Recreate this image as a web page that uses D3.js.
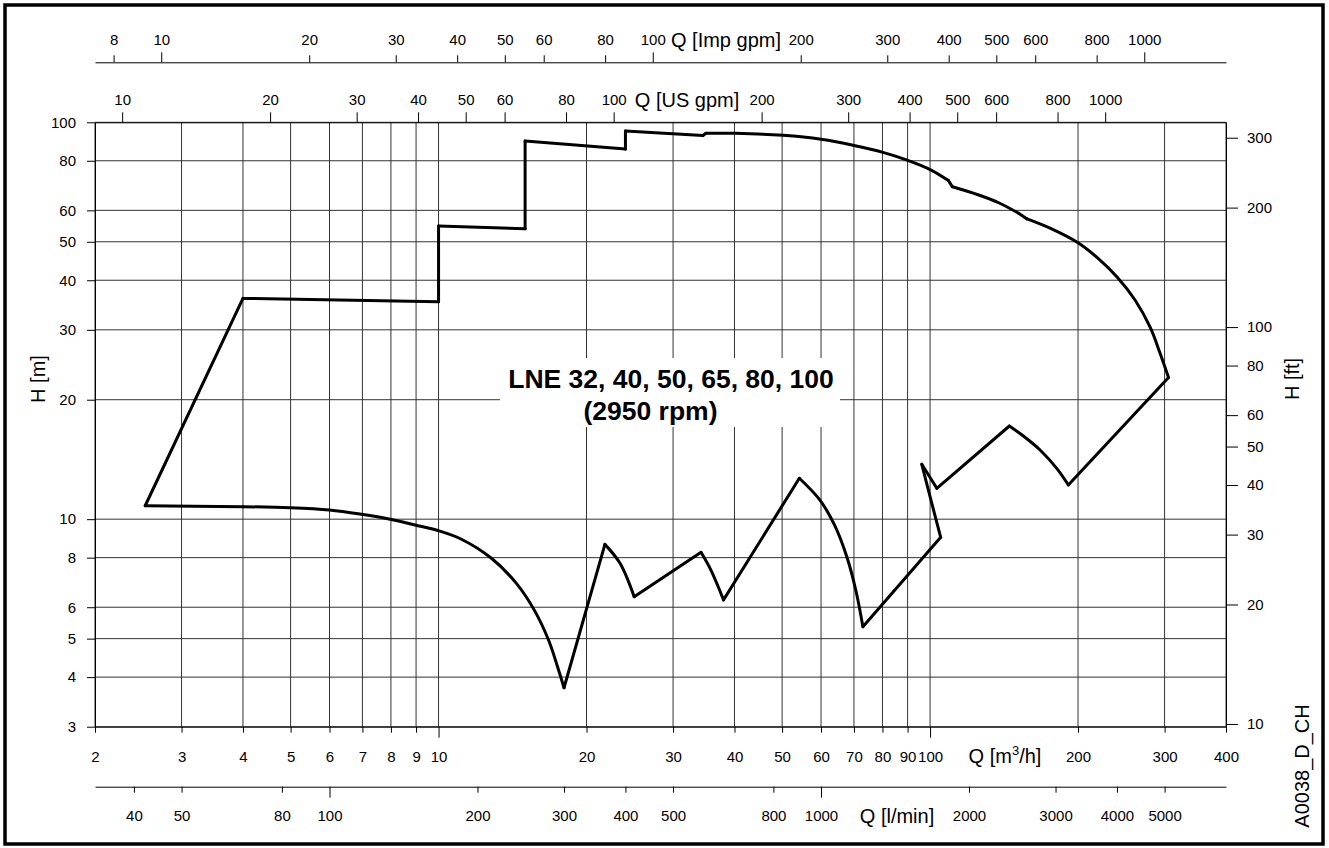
<!DOCTYPE html>
<html>
<head>
<meta charset="utf-8">
<script src="https://cdn.jsdelivr.net/npm/d3@7"></script>
<style>
    body { margin: 0; background: #fff; }
    svg { display: block; font-family: "Liberation Sans", Arial, Helvetica, sans-serif; }
</style>
</head>
<body>
<div id="chart"></div>
<script>
// Operating envelope of the pump range (Q in m3/h, H in m)
const flowQ = [2.53, 4.0, 10.0, 10.0, 15.0, 15.0, 24.0, 24.0, 34.5, 35.0,
    40.2, 50.2, 60.0, 70.4, 80.2, 89.8, 100.5, 109, 111, 125.6,
    137.9, 151.4, 157.5, 175.4, 200, 219.7, 240.1, 261.2, 280.2, 293.7,
    305.6, 191.1, 181, 167.4, 154.8, 145, 103.2, 96.2, 100, 105.1,
    73.0, 70.6, 67.7, 63.9, 59.7, 54.2, 38.0, 35.8, 34.2, 25.0,
    23.4, 21.8, 18.0, 17.46, 16.74, 15.66, 14.4, 12.81, 11.13, 10.0,
    8.96, 7.97, 6.97, 6.0, 5.0, 4.0];
const headH = [10.81, 36.0, 35.3, 54.8, 53.9, 89.7, 85.6, 95.1, 92.6, 93.8,
    93.8, 92.7, 90.6, 87.3, 84.0, 80.3, 75.8, 71.3, 68.8, 65.6,
    62.7, 59.0, 57.1, 54.1, 49.7, 45.4, 40.75, 35.66, 30.5, 26.2,
    22.75, 12.2, 13.43, 14.94, 16.2, 17.17, 11.96, 13.75, 11.39, 9.0,
    5.36, 6.63, 8.04, 9.67, 11.17, 12.68, 6.26, 7.45, 8.25, 6.38,
    7.74, 8.64, 3.76, 4.25, 4.96, 5.9, 6.89, 7.97, 8.9, 9.35,
    9.67, 10.0, 10.29, 10.55, 10.69, 10.75];
// indices of the sharp corners of the outline; points between them are smooth
const corners = [0, 1, 2, 3, 4, 5, 6, 7, 8, 9, 17, 18, 21, 22, 30, 31, 35, 36, 37,
    39, 40, 45, 46, 48, 49, 51, 52, 65];

// tick labels of every axis
const qTicks = [2, 3, 4, 5, 6, 7, 8, 9, 10, 20, 30, 40, 50, 60, 70, 80, 90, 100, 200, 300, 400];
const hTicks = [3, 4, 5, 6, 8, 10, 20, 30, 40, 50, 60, 80, 100];
const ftTicks = [10, 20, 30, 40, 50, 60, 80, 100, 200, 300];
const usTicks = [10, 20, 30, 40, 50, 60, 80, 100, 200, 300, 400, 500, 600, 800, 1000];
const impTicks = [8, 10, 20, 30, 40, 50, 60, 80, 100, 200, 300, 400, 500, 600, 800, 1000];
const lminTicks = [40, 50, 80, 100, 200, 300, 400, 500, 800, 1000, 2000, 3000, 4000, 5000];

// unit conversions from m3/h and m
const usGpm = 4.4029, impGpm = 3.6662, lMin = 16.667, feet = 3.2808;

const w = 1329, h = 848;
const pLeft = 95, pRight = 1226, pTop = 122.3, pBottom = 726.7; // plot area

const svg = d3.select("#chart")
    .append("svg")
    .attr("width", w)
    .attr("height", h);

svg.append("rect")
    .attr("width", w).attr("height", h)
    .attr("fill", "#fff");

const x = d3.scaleLog().domain([2, 400]).range([pLeft, pRight]);
const y = d3.scaleLog().domain([3, 100]).range([pBottom, pTop]);
const xUs = d3.scaleLog().domain([2 * usGpm, 400 * usGpm]).range([pLeft, pRight]);
const xImp = d3.scaleLog().domain([2 * impGpm, 400 * impGpm]).range([pLeft, pRight]);
const xL = d3.scaleLog().domain([2 * lMin, 400 * lMin]).range([pLeft, pRight]);
const yFt = d3.scaleLog().domain([3 * feet, 100 * feet]).range([pBottom, pTop]);

const isDecade = d => Math.abs(Math.log10(d) - Math.round(Math.log10(d))) < 1e-6;
const fmt = d3.format("d");

// GRID
const grid = svg.append("g")
    .attr("stroke", "#333")
    .attr("stroke-width", 1);

grid.selectAll("line.v")
    .data(qTicks)
    .enter()
    .append("line")
    .attr("x1", d => x(d)).attr("x2", d => x(d))
    .attr("y1", pTop).attr("y2", pBottom);

grid.selectAll("line.h")
    .data(hTicks)
    .enter()
    .append("line")
    .attr("y1", d => y(d)).attr("y2", d => y(d))
    .attr("x1", pLeft).attr("x2", pRight);

// white box behind the title
svg.append("rect")
    .attr("x", 500).attr("y", 358)
    .attr("width", 340).attr("height", 69)
    .attr("fill", "#fff");

// AXES
function styleAxis(g, size) {
    g.selectAll("text").attr("font-size", size).attr("fill", "#000");
    g.selectAll("line").attr("stroke", "#000");
    g.select(".domain").attr("stroke", "#000");
}

const xAxis = svg.append("g")
    .attr("transform", `translate(0,${pBottom})`)
    .call(d3.axisBottom(x).tickValues(qTicks).tickFormat(fmt)
        .tickSize(6).tickSizeOuter(0).tickPadding(18.5));
xAxis.selectAll(".tick line").attr("y2", d => isDecade(d) ? 11 : 6);
styleAxis(xAxis, 15);

const lAxis = svg.append("g")
    .attr("transform", "translate(0,786.7)")
    .call(d3.axisBottom(xL).tickValues(lminTicks).tickFormat(fmt)
        .tickSize(6).tickSizeOuter(0).tickPadding(17.5));
lAxis.selectAll(".tick line").attr("y2", d => isDecade(d) ? 11 : 6);
styleAxis(lAxis, 15);

const usAxis = svg.append("g")
    .attr("transform", `translate(0,${pTop})`)
    .call(d3.axisTop(xUs).tickValues(usTicks).tickFormat(fmt)
        .tickSize(10).tickSizeOuter(0).tickPadding(7));
styleAxis(usAxis, 15);

const impAxis = svg.append("g")
    .attr("transform", "translate(0,62.3)")
    .call(d3.axisTop(xImp).tickValues(impTicks).tickFormat(fmt)
        .tickSize(7).tickSizeOuter(0).tickPadding(10.5));
impAxis.selectAll(".tick line").attr("y2", d => isDecade(d) ? -10 : -7);
styleAxis(impAxis, 15);

const yAxis = svg.append("g")
    .attr("transform", `translate(${pLeft},0)`)
    .call(d3.axisLeft(y).tickValues(hTicks).tickFormat(fmt)
        .tickSize(8).tickSizeOuter(0).tickPadding(11));
styleAxis(yAxis, 15);

const ftAxis = svg.append("g")
    .attr("transform", `translate(${pRight},0)`)
    .call(d3.axisRight(yFt).tickValues(ftTicks).tickFormat(fmt)
        .tickSize(12).tickSizeOuter(0).tickPadding(9));
styleAxis(ftAxis, 15);

// AXIS TITLES
const label = (tx, ty, txt, rot) => svg.append("text")
    .attr("transform", `translate(${tx},${ty})` + (rot ? " rotate(-90)" : ""))
    .attr("text-anchor", "middle")
    .attr("font-size", 20)
    .text(txt);

const qm = label(1005, 763, "Q [m");
qm.append("tspan").attr("font-size", 13).attr("dy", -8).text("3");
qm.append("tspan").attr("dy", 8).text("/h]");

label(897, 823, "Q [l/min]");
label(687, 106.5, "Q [US gpm]");
label(726, 46.5, "Q [Imp gpm]");
label(45, 379, "H [m]", true);
label(1299, 379, "H [ft]", true);
label(1309, 766, "A0038_D_CH", true);

// TITLE
svg.append("text")
    .attr("x", 671).attr("y", 387.5)
    .attr("text-anchor", "middle")
    .attr("font-size", 26.5)
    .attr("font-weight", "bold")
    .text("LNE 32, 40, 50, 65, 80, 100");
svg.append("text")
    .attr("x", 650.5).attr("y", 419.5)
    .attr("text-anchor", "middle")
    .attr("font-size", 26.5)
    .attr("font-weight", "bold")
    .text("(2950 rpm)");

// ENVELOPE CURVE - straight pieces between corners, smooth pieces elsewhere
const pts = flowQ.map((q, i) => [q, headH[i]]);
const straight = d3.line().x(d => x(d[0])).y(d => y(d[1]));
const smooth = d3.line().x(d => x(d[0])).y(d => y(d[1])).curve(d3.curveCatmullRom.alpha(0.5));

const pieces = [];
for (let k = 0; k < corners.length; k++) {
    const a = corners[k];
    const b = k + 1 < corners.length ? corners[k + 1] : pts.length; // last piece closes on point 0
    const piece = [];
    for (let i = a; i <= b; i++) piece.push(pts[i % pts.length]);
    pieces.push(piece);
}

svg.append("g")
    .selectAll("path")
    .data(pieces)
    .enter()
    .append("path")
    .attr("d", d => d.length > 2 ? smooth(d) : straight(d))
    .attr("fill", "none")
    .attr("stroke", "#000")
    .attr("stroke-width", 3)
    .attr("stroke-linecap", "round")
    .attr("stroke-linejoin", "round");

// FRAME
svg.append("rect")
    .attr("x", 5).attr("y", 5)
    .attr("width", 1318).attr("height", 839)
    .attr("fill", "none")
    .attr("stroke", "#000")
    .attr("stroke-width", 3.5);
</script>
</body>
</html>
